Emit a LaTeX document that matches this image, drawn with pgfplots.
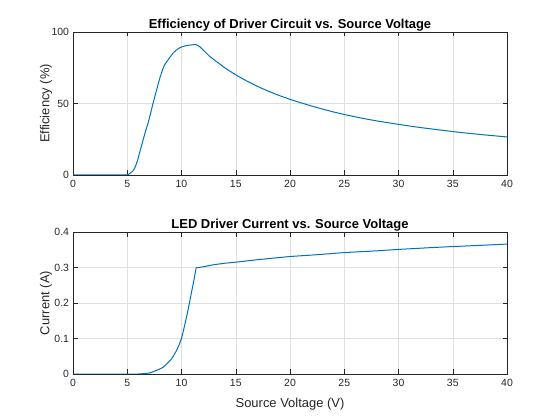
\documentclass[border=0pt]{standalone}
\usepackage{fontspec}
\setmainfont{Liberation Sans}
\usepackage{pgfplots}
\pgfplotsset{compat=1.18}
\definecolor{mblue}{rgb}{0,0.447,0.741}
\definecolor{axgray}{rgb}{0.15,0.15,0.15}
\definecolor{gridgray}{rgb}{0.875,0.875,0.875}

\pgfplotstableread{
x y
0 0
4.9 0
5.0 0
5.2 0.8
5.4 2
5.53 3
5.7 5
5.84 7.7
6.0 11.5
6.15 15.9
6.3 20
6.45 24.2
6.7 31
6.91 36
7.15 43
7.37 50
7.6 56.5
7.83 63
8.05 69
8.3 74.6
8.5 77.8
8.76 80.5
9.0 83
9.22 85.2
9.5 87.2
9.8 88.8
10.0 89.5
10.5 90.6
11.0 91.0
11.3 91.3
11.5 90.6
11.7 89.6
12.0 87.4
12.55 83.3
13 80.6
14 74.9
15 70
16 65.8
17 62
18 58.6
19 55.6
20 52.9
21 50.5
22 48.2
23 46.1
24 44.1
25 42.3
26 40.7
27 39.2
28 37.8
29 36.6
30 35.4
32 33.2
34 31.3
35 30.4
36 29.5
38 28
40 26.6
}\effdata

\pgfplotstableread{
x y
0 0
6 0
6.5 0.001
7 0.0025
7.4 0.0066
8 0.014
8.3 0.019
8.7 0.03
9.07 0.042
9.3 0.053
9.54 0.066
9.8 0.084
10.0 0.10
10.2 0.125
10.46 0.16
10.7 0.195
10.92 0.23
11.15 0.265
11.35 0.299
12 0.302
13 0.308
14 0.312
15 0.315
17 0.322
20 0.331
22 0.335
25 0.342
28 0.347
30 0.351
33 0.356
35 0.359
38 0.363
40 0.366
}\curdata

\pgfplotsset{mstyle/.style={
  scale only axis, width=434bp,
  xmin=0, xmax=40, xtick={0,5,...,40},
  grid=major, major grid style={gridgray, line width=0.5bp},
  axis line style={axgray, line width=0.5bp},
  every tick/.style={axgray, line width=0.5bp},
  tick align=inside, major tick length=4.5bp, tick pos=both,
  ticklabel style={font=\fontsize{10.5}{12}\selectfont, text=axgray},
  /pgf/number format/assume math mode=true,
  yticklabel style={xshift=-0.5bp},
  xticklabel style={yshift=-1.5bp},
  label style={font=\fontsize{13}{15}\selectfont, text=axgray},
  title style={font=\bfseries\fontsize{13}{15}\selectfont, text=black, at={(axis description cs:0.5,1)}, anchor=base, yshift=-2pt},
  ylabel style={at={(axis description cs:-0.062,0.5)}, anchor=center},
}}

\begin{document}
\begin{tikzpicture}
\useasboundingbox (0bp,0bp) rectangle (560bp,420bp);
\begin{axis}[mstyle, at={(73bp,245bp)}, anchor=south west, height=143bp,
  ymin=0, ymax=100, ytick={0,50,100},
  title={Efficiency of Driver Circuit vs. Source Voltage},
  ylabel={Efficiency (\%)}]
\addplot[mblue, line width=1bp] table[x=x,y=y] {\effdata};
\end{axis}
\begin{axis}[mstyle, at={(73bp,46bp)}, anchor=south west, height=142bp,
  ymin=0, ymax=0.4, ytick={0,0.1,0.2,0.3,0.4},
  yticklabel style={/pgf/number format/fixed, /pgf/number format/precision=1},
  title={LED Driver Current vs. Source Voltage},
  ylabel={Current (A)}, xlabel={Source Voltage (V)},
  xlabel style={at={(axis description cs:0.5,-0.213)}, anchor=center}]
\addplot[mblue, line width=1bp] table[x=x,y=y] {\curdata};
\end{axis}
\end{tikzpicture}
\end{document}
